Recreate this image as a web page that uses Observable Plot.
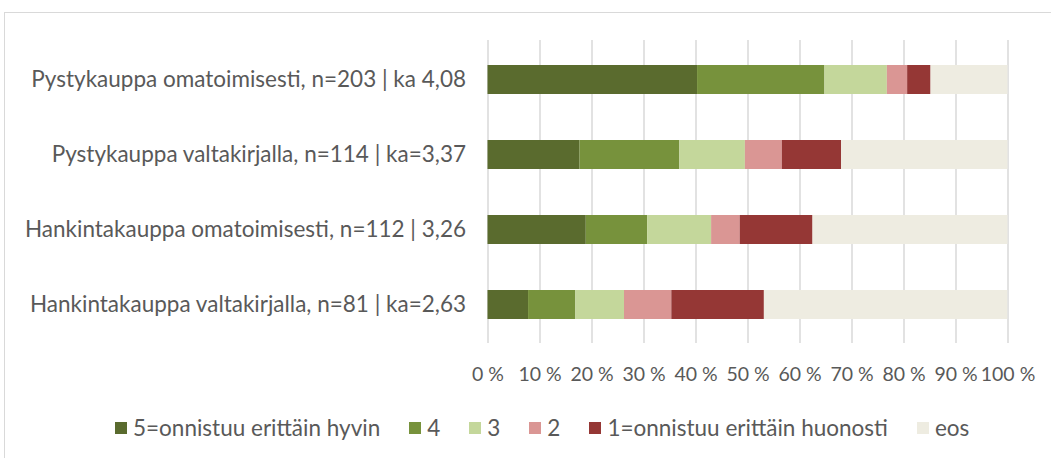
<!DOCTYPE html>
<html>
<head>
<meta charset="utf-8">
<script src="https://cdn.jsdelivr.net/npm/d3@7"></script>
<script src="https://cdn.jsdelivr.net/npm/@observablehq/plot@0.6"></script>
<style>
  html, body { margin: 0; padding: 0; background: #fff; overflow: hidden; width: 1051px; height: 458px; }
  #frame { position: absolute; left: 4px; top: 12px; width: 1200px; height: 600px; border: 1.5px solid #d9d9d9; box-sizing: border-box; }
  #chart { position: absolute; left: 0; top: 0; }
  #legend { position: absolute; left: 115px; top: 414px; display: flex; gap: 29px;
            font-family: Lato, sans-serif; font-size: 22.5px; color: #595959; white-space: nowrap; }
  .item { display: flex; align-items: center; gap: 6px; }
  .sw { width: 12px; height: 12px; display: inline-block; }
</style>
</head>
<body>
<div id="frame"></div>
<div id="chart"></div>
<div id="legend"></div>
<script>
const categories = [
  "Pystykauppa omatoimisesti, n=203 | ka 4,08",
  "Pystykauppa valtakirjalla, n=114 | ka=3,37",
  "Hankintakauppa omatoimisesti, n=112 | 3,26",
  "Hankintakauppa valtakirjalla, n=81 | ka=2,63"
];
const seriesNames = ["5=onnistuu erittäin hyvin", "4", "3", "2", "1=onnistuu erittäin huonosti", "eos"];
const s5 = [40.3, 17.7, 18.9, 7.8];
const s4 = [24.5, 19.2, 11.8, 9.1];
const s3 = [12.0, 12.6, 12.3, 9.35];
const s2 = [3.9, 7.1, 5.5, 9.1];
const s1 = [4.5, 11.4, 14.0, 17.8];
const sEos = [14.8, 32.0, 37.5, 46.8];
const colors = ["#5a6b2e", "#77923c", "#c4d79b", "#da9694", "#953735", "#eeece1"];
const xTicks = [0, 10, 20, 30, 40, 50, 60, 70, 80, 90, 100];

const seriesValues = [s5, s4, s3, s2, s1, sEos];
const data = [];
categories.forEach((c, i) => {
  seriesNames.forEach((s, j) => {
    data.push({category: c, series: s, value: seriesValues[j][i], order: j});
  });
});

const chart = Plot.plot({
  width: 1051,
  height: 393,
  marginLeft: 487.5,
  marginRight: 43.5,
  marginTop: 40,
  marginBottom: 50,
  style: {fontFamily: "Lato, sans-serif", fontSize: "19.5px", color: "#595959", background: "transparent"},
  x: {domain: [0, 100], ticks: xTicks, tickFormat: d => d + " %", tickSize: 0, tickPadding: 24, label: null},
  y: {domain: categories, padding: 0, label: null},
  color: {domain: seriesNames, range: colors},
  marks: [
    Plot.ruleX(xTicks, {stroke: "#d9d9d9", strokeWidth: 1.5, strokeOpacity: 1}),
    Plot.barX(data, Plot.stackX({
      x: "value", y: "category", fill: "series", order: "order",
      insetTop: 23, insetBottom: 23
    })),
    Plot.axisY({tickSize: 0, tickPadding: 22, fontSize: 22.5, label: null})
  ]
});
document.getElementById("chart").appendChild(chart);

const legend = document.getElementById("legend");
seriesNames.forEach((s, j) => {
  const it = document.createElement("div");
  it.className = "item";
  const sw = document.createElement("span");
  sw.className = "sw";
  sw.style.background = colors[j];
  const t = document.createElement("span");
  t.textContent = s;
  it.appendChild(sw); it.appendChild(t);
  legend.appendChild(it);
});
</script>
</body>
</html>
